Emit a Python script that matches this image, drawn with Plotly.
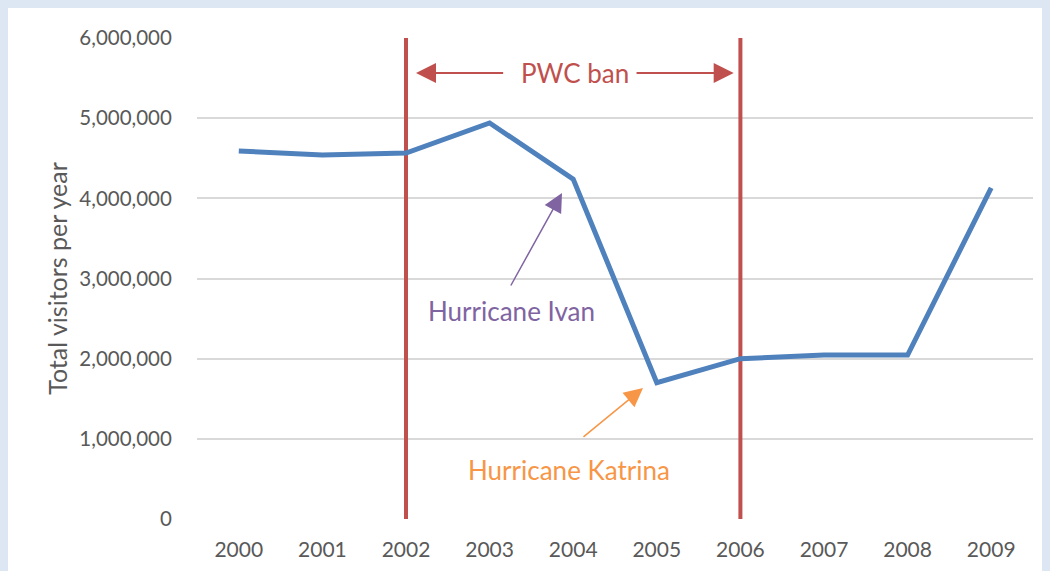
import plotly.graph_objects as go

years = [2000, 2001, 2002, 2003, 2004, 2005, 2006, 2007, 2008, 2009]
visitors = [4590000, 4540000, 4565000, 4940000, 4240000, 1700000, 2000000, 2045000, 2045000, 4130000]
ban_years = [2002, 2006]
y_ticks = [0, 1000000, 2000000, 3000000, 4000000, 5000000, 6000000]

FONT = "Lato"
TXT = "#595959"
RED = "#c0504d"

fig = go.Figure()

for by in ban_years:
    fig.add_trace(go.Scatter(x=[by, by], y=[0, 6000000], mode="lines",
                             line=dict(color=RED, width=4), hoverinfo="skip", showlegend=False))

fig.add_trace(go.Scatter(x=years, y=visitors, mode="lines",
                         line=dict(color="#4f81bd", width=5), showlegend=False))

anns = [
    dict(x=2002.12, y=5563000, ax=2003.18, ay=5563000, arrowcolor=RED, arrowwidth=2, arrowhead=2, arrowsize=2),
    dict(x=2005.92, y=5563000, ax=2004.74, ay=5563000, arrowcolor=RED, arrowwidth=2, arrowhead=2, arrowsize=2),
    dict(x=2003.866, y=4066000, ax=2003.244, ay=2894000, arrowcolor="#8064a2", arrowwidth=1.5, arrowhead=2, arrowsize=2.5),
    dict(x=2004.835, y=1634000, ax=2004.105, ay=1010000, arrowcolor="#f79646", arrowwidth=1.5, arrowhead=2, arrowsize=2.5),
]
for a in anns:
    fig.add_annotation(xref="x", yref="y", axref="x", ayref="y", text="", showarrow=True, **a)

fig.add_annotation(x=2004.02, y=5563000, xref="x", yref="y", text="PWC ban",
                   showarrow=False, font=dict(family=FONT, size=26, color=RED))
fig.add_annotation(x=2003.256, y=2594000, xref="x", yref="y", text="Hurricane Ivan",
                   showarrow=False, font=dict(family=FONT, size=26, color="#8064a2"))
fig.add_annotation(x=2003.95, y=611000, xref="x", yref="y", text="Hurricane Katrina",
                   showarrow=False, font=dict(family=FONT, size=26, color="#f79646"))

fig.update_layout(
    width=1042, height=563,
    margin=dict(l=189, r=17, t=30, b=52, autoexpand=False),
    paper_bgcolor="white",
    plot_bgcolor="white",
    font=dict(family=FONT, color=TXT, size=21),
    xaxis=dict(range=[1999.5, 2009.5], tickvals=years, ticktext=[str(y) for y in years],
               showgrid=False, zeroline=False, showline=False, automargin=False,
               ticks="outside", ticklen=12, tickcolor="rgba(0,0,0,0)",
               tickfont=dict(size=21, color=TXT)),
    yaxis=dict(range=[0, 6000000], tickvals=y_ticks, tickformat=",d", automargin=False,
               showgrid=True, gridcolor="#d9d9d9", gridwidth=2, zeroline=False, showline=False,
               ticks="outside", ticklen=20, tickcolor="rgba(0,0,0,0)",
               tickfont=dict(size=20.5, color=TXT),
               title=dict(text="Total visitors per year", font=dict(size=25, color=TXT), standoff=4)),
)

fig.write_html("out.html", post_script="document.body.style.background='#dde7f4';document.body.style.overflow='hidden';")
